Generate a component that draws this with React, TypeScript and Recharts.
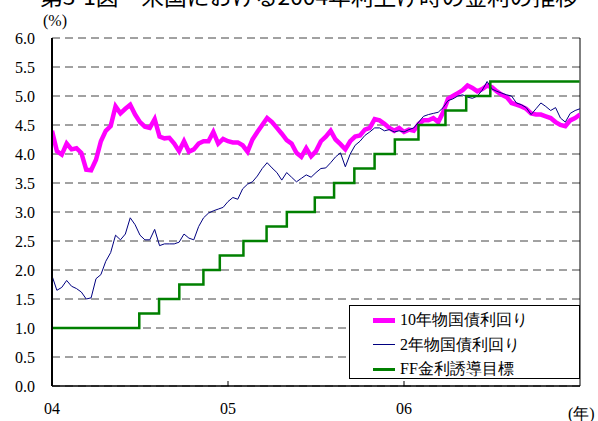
import React from 'react';
import { LineChart, Line, XAxis, YAxis, CartesianGrid, ReferenceLine } from 'recharts';

// sample spacing of the yield series: 36 readings a year starting Jan 2004
const START_YEAR = 2004;
const STEPS_PER_YEAR = 36;

const YIELD_10Y = [
  4.40, 4.05, 3.99, 4.18, 4.08, 4.10, 4.02, 3.73, 3.72, 3.90,
  4.22, 4.40, 4.48, 4.82, 4.70, 4.78, 4.85, 4.68, 4.55, 4.47,
  4.45, 4.60, 4.30, 4.27, 4.28, 4.18, 4.05, 4.22, 4.04, 4.08,
  4.18, 4.22, 4.22, 4.38, 4.18, 4.26, 4.22, 4.20, 4.20, 4.15,
  4.04, 4.25, 4.38, 4.50, 4.62, 4.55, 4.45, 4.35, 4.24, 4.18,
  4.02, 3.95, 4.10, 3.96, 4.05, 4.22, 4.30, 4.40, 4.25, 4.17,
  4.08, 4.22, 4.30, 4.32, 4.42, 4.45, 4.60, 4.58, 4.52, 4.45,
  4.40, 4.45, 4.38, 4.42, 4.40, 4.52, 4.58, 4.58, 4.62, 4.55,
  4.72, 4.95, 5.00, 5.05, 5.10, 5.18, 5.14, 5.08, 5.12, 5.18,
  5.15, 5.08, 5.02, 4.98, 4.88, 4.85, 4.82, 4.78, 4.70, 4.68,
  4.68, 4.65, 4.62, 4.55, 4.50, 4.48, 4.58, 4.62, 4.68,
];

const YIELD_2Y = [
  1.90, 1.65, 1.70, 1.82, 1.72, 1.68, 1.62, 1.50, 1.52, 1.85,
  1.92, 2.15, 2.30, 2.60, 2.52, 2.62, 2.90, 2.78, 2.60, 2.52,
  2.52, 2.70, 2.42, 2.45, 2.45, 2.45, 2.48, 2.62, 2.55, 2.52,
  2.75, 2.90, 2.98, 3.02, 3.05, 3.08, 3.18, 3.25, 3.22, 3.40,
  3.48, 3.52, 3.62, 3.75, 3.85, 3.76, 3.68, 3.55, 3.68, 3.60,
  3.52, 3.58, 3.64, 3.60, 3.68, 3.75, 3.76, 3.85, 3.95, 4.02,
  3.78, 4.00, 4.15, 4.22, 4.32, 4.38, 4.45, 4.45, 4.40, 4.42,
  4.38, 4.40, 4.38, 4.42, 4.45, 4.55, 4.65, 4.68, 4.70, 4.72,
  4.80, 4.92, 4.95, 5.00, 5.02, 4.98, 4.96, 5.00, 5.10, 5.25,
  5.12, 5.08, 5.05, 5.02, 5.00, 4.88, 4.85, 4.80, 4.68, 4.78,
  4.88, 4.82, 4.75, 4.80, 4.62, 4.55, 4.70, 4.75, 4.78,
];

const FF_DATES = [
  '2004-01-01', '2004-06-30', '2004-08-10', '2004-09-21', '2004-11-10', '2004-12-14',
  '2005-02-02', '2005-03-22', '2005-05-03', '2005-06-30', '2005-08-09', '2005-09-20',
  '2005-11-01', '2005-12-13', '2006-01-31', '2006-03-28', '2006-05-10', '2006-06-29',
  '2006-12-31',
];
const FF_TARGET = [
  1.00, 1.25, 1.50, 1.75, 2.00, 2.25,
  2.50, 2.75, 3.00, 3.25, 3.50, 3.75,
  4.00, 4.25, 4.50, 4.75, 5.00, 5.25,
  5.25,
];

const SERIES_NAMES = ['10年物国債利回り', '2年物国債利回り', 'FF金利誘導目標'];
const X_TICKS = [2004, 2005, 2006];
const X_TICK_LABELS = ['04', '05', '06'];
const Y_TICKS = [0, 0.5, 1, 1.5, 2, 2.5, 3, 3.5, 4, 4.5, 5, 5.5, 6];

const TITLE = '第3-1図　米国における2004年利上げ時の金利の推移';

const toYear = (d: string) => {
  const [y, m, dd] = d.split('-').map(Number);
  const days = (Date.UTC(y, m - 1, dd) - Date.UTC(y, 0, 1)) / 86400000;
  return y + days / 365;
};

const yieldData = YIELD_10Y.map((v, i) => ({
  t: START_YEAR + i / STEPS_PER_YEAR,
  y10: v,
  y2: YIELD_2Y[i],
}));
const ffData = FF_DATES.map((d, i) => ({ t: toYear(d), ff: FF_TARGET[i] }));

const SERIF = '"Liberation Serif", "Times New Roman", "DejaVu Serif", serif';
const COLORS = ['#FF00FF', '#000080', '#008000'];
const WIDTHS = [4.5, 1, 2.5];
const tickStyle = { fill: '#000', fontSize: 16, fontFamily: SERIF, style: { fontFamily: SERIF } };

function LegendBox() {
  return (
    <div
      style={{
        position: 'absolute',
        left: 349,
        top: 305,
        width: 231,
        height: 74,
        border: '1px solid #000',
        background: '#fff',
        fontFamily: SERIF,
        fontSize: 16,
        color: '#000',
        boxSizing: 'border-box',
        paddingTop: 2,
      }}
    >
      {SERIES_NAMES.map((name, i) => (
        <div key={name} style={{ display: 'flex', alignItems: 'center', height: 24.5 }}>
          <div style={{ width: 22, marginLeft: 23, marginRight: 5, height: WIDTHS[i], background: COLORS[i] }} />
          <span style={{ lineHeight: '18px' }}>{name}</span>
        </div>
      ))}
    </div>
  );
}

export default function App() {
  return (
    <div style={{ position: 'absolute', left: 0, top: 0, width: 598, height: 421, background: '#fff' }}>
      <LineChart width={598} height={421} margin={{ top: 38, right: 18, bottom: 5, left: 0 }}>
        <CartesianGrid vertical={false} stroke="#444" strokeDasharray="8 5" />
        <XAxis
          type="number"
          dataKey="t"
          domain={[2004, 2007]}
          ticks={X_TICKS}
          tickFormatter={(v: number) => X_TICK_LABELS[X_TICKS.indexOf(v)] ?? ''}
          allowDataOverflow
          height={30}
          stroke="#000"
          axisLine={{ stroke: '#000', strokeWidth: 1.5 }}
          tickSize={-5}
          tickMargin={22}
          tick={tickStyle}
        />
        <YAxis
          type="number"
          domain={[0, 6]}
          ticks={Y_TICKS}
          tickFormatter={(v: number) => v.toFixed(1)}
          width={52}
          axisLine={{ stroke: '#000', strokeWidth: 2 }}
          tickLine={false}
          tickSize={0}
          tickMargin={17}
          tick={tickStyle}
        />
        <ReferenceLine x={2007} stroke="#000" strokeWidth={1} />
        <Line
          data={yieldData}
          dataKey="y10"
          name={SERIES_NAMES[0]}
          stroke={COLORS[0]}
          strokeWidth={WIDTHS[0]}
          dot={false}
          type="linear"
          isAnimationActive={false}
        />
        <Line
          data={yieldData}
          dataKey="y2"
          name={SERIES_NAMES[1]}
          stroke={COLORS[1]}
          strokeWidth={WIDTHS[1]}
          dot={false}
          type="linear"
          isAnimationActive={false}
        />
        <Line
          data={ffData}
          dataKey="ff"
          name={SERIES_NAMES[2]}
          stroke={COLORS[2]}
          strokeWidth={WIDTHS[2]}
          dot={false}
          type="stepAfter"
          isAnimationActive={false}
        />
      </LineChart>
      <LegendBox />
      <svg width={598} height={421} style={{ position: 'absolute', left: 0, top: 0, pointerEvents: 'none' }}>
        <text
          x={40}
          y={5}
          fontSize={22}
          style={{ fontFamily: '"Noto Sans CJK JP", sans-serif' }}
          textLength={538}
          lengthAdjust="spacingAndGlyphs"
          fill="#000"
        >
          {TITLE}
        </text>
        <text x={43} y={26} fontSize={16} style={{ fontFamily: SERIF }} fill="#000">(%)</text>
        <text x={568} y={419} fontSize={16} style={{ fontFamily: SERIF }} fill="#000">(年)</text>
      </svg>
    </div>
  );
}
